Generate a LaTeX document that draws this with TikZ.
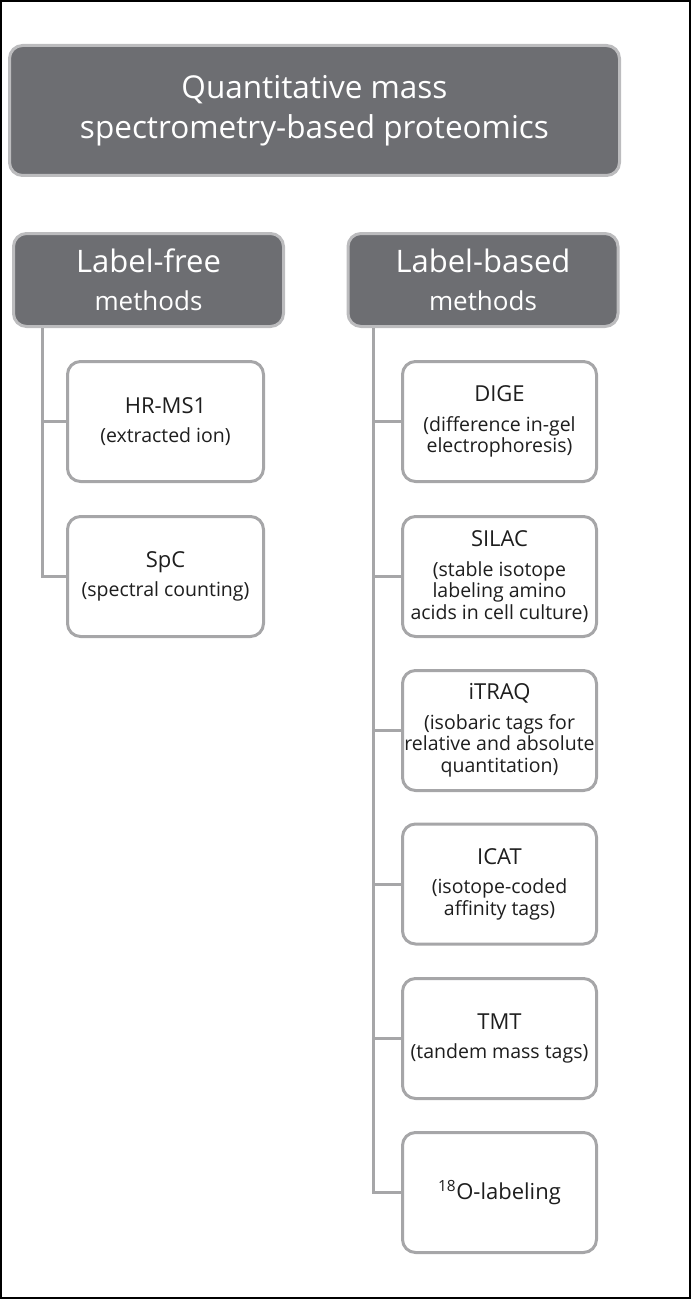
\documentclass[tikz,border=0pt]{standalone}
\usepackage{fontspec}
\setmainfont{Open Sans}
\definecolor{headfill}{HTML}{6D6E72}
\definecolor{headrim}{HTML}{BCBCBE}
\definecolor{itemrim}{HTML}{A6A6A8}
\definecolor{itemtext}{HTML}{1E1E1E}
\newcommand{\methodtext}[2]{{\fontsize{22}{21.5}\selectfont #1}\\[8pt]#2}
\begin{document}
\begin{tikzpicture}[x=1pt,y=-1pt,
	headbox/.style={draw=headrim, line width=3pt, fill=headfill, rounded corners=13pt, text=white, align=center, inner sep=0pt},
	itembox/.style={draw=itemrim, line width=3pt, fill=white, rounded corners=13pt, minimum height=120pt, align=center, text=itemtext, inner sep=0pt, font=\fontsize{19.5}{21.5}\selectfont},
	trunk/.style={draw=itemrim, line width=3pt}]
	\useasboundingbox (0,0) rectangle (692,1300);
	\path[draw,line width=2pt] (1,1) rectangle (690,1298);

	\node[headbox, minimum width=610pt, minimum height=130pt, font=\fontsize{31.5}{40}\selectfont] (quant) at (314.5,110.5) {Quantitative mass\\spectrometry-based proteomics};
	\node[headbox, minimum width=270pt, minimum height=93pt, font=\fontsize{26}{38}\selectfont] (lfree) at (148.5,280) {{\fontsize{31}{38}\selectfont Label-free}\\methods};
	\node[headbox, minimum width=270pt, minimum height=93pt, font=\fontsize{26}{38}\selectfont] (lbased) at (483,280) {{\fontsize{31}{38}\selectfont Label-based}\\methods};

	\node[itembox, minimum width=196pt] (hrms) at (165.5,421.5) {\methodtext{HR-MS1}{(extracted ion)}};
	\node[itembox, minimum width=196pt] (spc) at (165.5,576.5) {\methodtext{SpC}{(spectral counting)}};

	\node[itembox, minimum width=194pt] (dige) at (499.5,421.5) {\methodtext{DIGE}{(difference in-gel\\electrophoresis)}};
	\node[itembox, minimum width=194pt] (silac) at (499.5,576.5) {\methodtext{SILAC}{(stable isotope\\labeling amino\\acids in cell culture)}};
	\node[itembox, minimum width=194pt] (itraq) at (499.5,730.5) {\methodtext{iTRAQ}{(isobaric tags for\\relative and absolute\\quantitation)}};
	\node[itembox, minimum width=194pt] (icat) at (499.5,884) {\methodtext{ICAT}{(isotope-coded\\affinity tags)}};
	\node[itembox, minimum width=194pt] (tmt) at (499.5,1038.5) {\methodtext{TMT}{(tandem mass tags)}};
	\node[itembox, minimum width=194pt, font=\fontsize{22}{26}\selectfont] (oxy) at (499.5,1192.5) {\textsuperscript{18}O-labeling};

	\coordinate (ltrunk) at ([xshift=30pt]lfree.south west);
	\coordinate (rtrunk) at ([xshift=27pt]lbased.south west);

	\path[trunk] (ltrunk) |- (spc.west);
	\path[trunk] (hrms.west) -- (hrms.west -| ltrunk);

	\path[trunk] (rtrunk) |- (oxy.west);
	\path[trunk] (dige.west) -- (dige.west -| rtrunk);
	\path[trunk] (silac.west) -- (silac.west -| rtrunk);
	\path[trunk] (itraq.west) -- (itraq.west -| rtrunk);
	\path[trunk] (icat.west) -- (icat.west -| rtrunk);
	\path[trunk] (tmt.west) -- (tmt.west -| rtrunk);
\end{tikzpicture}
\end{document}
